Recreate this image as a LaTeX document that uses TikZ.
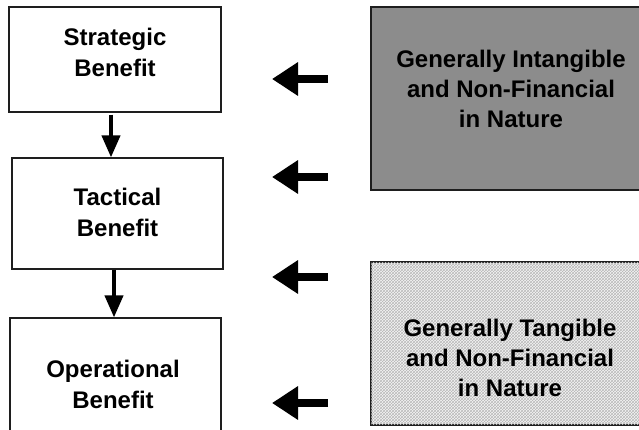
\documentclass[tikz,border=0pt]{standalone}
\usepackage{fontspec}
\setmainfont{Liberation Sans}
\usetikzlibrary{arrows.meta,patterns}
\definecolor{boxgray}{HTML}{8C8C8C}
\definecolor{edge}{HTML}{1E1E1E}
\tikzset{
  benbox/.style={draw=edge, line width=1.2pt, fill=white, rectangle, inner sep=0pt},
  lefttext/.style={font=\bfseries\fontsize{24}{31}\selectfont, align=center, inner sep=0pt},
  righttext/.style={font=\bfseries\fontsize{24}{30}\selectfont, align=center, inner sep=0pt},
  downarrow/.style={line width=4pt, -{Triangle[width=18pt,length=22pt]}},
  leftarrow/.style={line width=8pt, -{Triangle[width=32pt,length=26pt]}},
}
\begin{document}
\begin{tikzpicture}[x=1pt,y=-1pt]
\useasboundingbox (0,0) rectangle (639,429);
% left boxes
\node[benbox, minimum width=212pt, minimum height=105pt] (strat) at (115,59.5) {};
\node[benbox, minimum width=211pt, minimum height=111pt] (tact) at (117.5,213.5) {};
\node[benbox, minimum width=211pt, minimum height=122pt] (oper) at (115.5,379) {};
\node[lefttext] (stratt) at (115,52) {Strategic\\Benefit};
\node[lefttext] (tactt) at (117.5,212) {Tactical\\Benefit};
\node[lefttext] (opert) at (113,384) {Operational\\Benefit};
% right boxes
\node[draw=edge, line width=1.2pt, fill=boxgray, minimum width=290pt, minimum height=183pt, inner sep=0pt] (intang) at (516,98.5) {};
\node[draw=edge, line width=1.2pt, fill=gray!8, pattern color=gray!60, minimum width=290pt, minimum height=163pt, inner sep=0pt] (tangbg) at (516,343.5) {};
\path[pattern=crosshatch, pattern color=gray!55] (tangbg.south west) rectangle (tangbg.north east);
\draw[edge, line width=1.2pt] (tangbg.north east) -| (tangbg.south west) -| (tangbg.north east);
\node[righttext] (intangt) at (511,89) {Generally Intangible\\and Non-Financial\\in Nature};
\node[righttext] (tangt) at (510,357.5) {Generally Tangible\\and Non-Financial\\in Nature};
% down arrows
\draw[downarrow] ([xshift=-4pt,yshift=-2pt]strat.south) -- ([xshift=-4pt]strat.south |- tact.north);
\draw[downarrow] ([xshift=-3.5pt]tact.south) -- ([xshift=-3.5pt]tact.south |- oper.north);
% left arrows
\coordinate (a1s) at (328,79);  \coordinate (a1e) at (272,79);
\coordinate (a2s) at (328,177); \coordinate (a2e) at (272,177);
\coordinate (a3s) at (328,277); \coordinate (a3e) at (272,277);
\coordinate (a4s) at (328,403); \coordinate (a4e) at (272,403);
\draw[leftarrow] (a1s) -- (a1e);
\draw[leftarrow] (a2s) -- (a2e);
\draw[leftarrow] (a3s) -- (a3e);
\draw[leftarrow] (a4s) -- (a4e);
\end{tikzpicture}
\end{document}
